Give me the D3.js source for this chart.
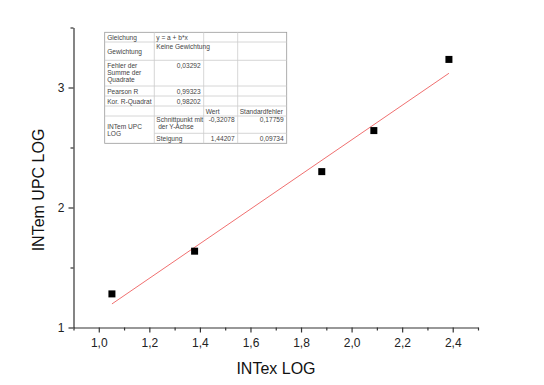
<!DOCTYPE html>
<html>
<head>
<meta charset="utf-8">
<script src="https://cdn.jsdelivr.net/npm/d3@7"></script>
<style>
  body { margin: 0; background: #fff; }
  text { font-family: "Liberation Sans", Arial, sans-serif; }
</style>
</head>
<body>
<div id="graph"></div>
<script>
// Messwerte
const intex = [1.052, 1.379, 1.882, 2.088, 2.385];
const intem = [1.280, 1.636, 2.299, 2.641, 3.234];

// lineare Regression (aus Tabelle)
const fitA = -0.32078;
const fitB = 1.44207;

const xMajorTicks = [1.0, 1.2, 1.4, 1.6, 1.8, 2.0, 2.2, 2.4];
const xMinorTicks = [0.9, 1.1, 1.3, 1.5, 1.7, 1.9, 2.1, 2.3, 2.5];
const yMajorTicks = [1, 2, 3];
const yMinorTicks = [1.5, 2.5, 3.5];

// Tabelleninhalt
const tableLabels = ["Gleichung", "Gewichtung", "Fehler der\nSumme der\nQuadrate", "Pearson R", "Kor. R-Quadrat", "", "INTem UPC\nLOG"];
const tableValues = ["y = a + b*x", "Keine Gewichtung", "0,03292", "0,99323", "0,98202"];
const paramNames = ["Schnittpunkt mit\n der Y-Achse", "Steigung"];
const paramWert = ["-0,32078", "1,44207"];
const paramFehler = ["0,17759", "0,09734"];

const W = 544, H = 385;
const margin = { top: 27.5, right: 66, bottom: 57.5, left: 73.5 };
const width = W - margin.left - margin.right,
      height = H - margin.top - margin.bottom;

const svg = d3.select("#graph").append("svg")
    .attr("width", W)
    .attr("height", H);

const g = svg.append("g")
    .attr("transform", "translate(" + margin.left + "," + margin.top + ")");

let x = d3.scaleLinear().domain([0.9, 2.5]).range([0, width]);
let y = d3.scaleLinear().domain([1, 3.5]).range([height, 0]);

const fmt = d => d3.format(".1f")(d).replace(".", ",");

// Achse X
let xAx = g.append("g")
    .attr("transform", "translate(0," + height + ")")
    .call(d3.axisBottom(x).tickValues(xMajorTicks).tickFormat(fmt).tickSize(5).tickSizeOuter(0));
g.append("g")
    .attr("transform", "translate(0," + height + ")")
    .call(d3.axisBottom(x).tickValues(xMinorTicks).tickFormat("").tickSize(3).tickSizeOuter(0))
    .select(".domain").remove();

// Achse Y
let yAx = g.append("g")
    .call(d3.axisLeft(y).tickValues(yMajorTicks).tickFormat(d => d).tickSize(5).tickSizeOuter(0));
g.append("g")
    .call(d3.axisLeft(y).tickValues(yMinorTicks).tickFormat("").tickSize(3).tickSizeOuter(0))
    .select(".domain").remove();

g.selectAll(".domain, .tick line").attr("stroke", "#333").attr("stroke-width", 1.2);
xAx.selectAll(".tick text").attr("font-size", 12).attr("fill", "#222").attr("dy", "0.95em");
yAx.selectAll(".tick text").attr("font-size", 12).attr("fill", "#222").attr("dx", "-0.1em");

// Achsentitel
svg.append("text")
    .attr("x", 276).attr("y", 374)
    .attr("text-anchor", "middle")
    .attr("font-size", 16).attr("fill", "#111")
    .text("INTex LOG");
svg.append("text")
    .attr("transform", "translate(44,190) rotate(-90)")
    .attr("text-anchor", "middle")
    .attr("font-size", 16).attr("fill", "#111")
    .text("INTem UPC LOG");

// Regressionsgerade
const xmin = d3.min(intex), xmax = d3.max(intex);
g.append("line")
    .attr("x1", x(xmin)).attr("y1", y(fitA + fitB * xmin))
    .attr("x2", x(xmax)).attr("y2", y(fitA + fitB * xmax))
    .attr("stroke", "#f07070").attr("stroke-width", 1);

// Punkte
const s = 7;
g.selectAll("rect.pt")
    .data(intex)
    .enter()
    .append("rect")
    .attr("class", "pt")
    .attr("x", (d) => x(d) - s / 2)
    .attr("y", (d, i) => y(intem[i]) - s / 2)
    .attr("width", s).attr("height", s)
    .attr("fill", "#000");

// Tabelle
const cols = [104.7, 154.3, 203.7, 237.7, 286.7];
const rows = [32.3, 42, 60.3, 86, 96, 106, 116, 133.3, 143.3];
const tg = svg.append("g");
const fs = 6.6;

tg.append("rect")
    .attr("x", cols[0]).attr("y", rows[0])
    .attr("width", cols[4] - cols[0]).attr("height", rows[8] - rows[0])
    .attr("fill", "#fff").attr("stroke", "#999").attr("stroke-width", 0.8);

// horizontale Linien
rows.slice(1, 8).forEach((ry, i) => {
    let x0 = (i === 6) ? cols[1] : cols[0];
    tg.append("line").attr("x1", x0).attr("x2", cols[4]).attr("y1", ry).attr("y2", ry)
        .attr("stroke", "#ccc").attr("stroke-width", 0.8);
});
// vertikale Linien
cols.slice(1, 4).forEach((cx) => {
    tg.append("line").attr("x1", cx).attr("x2", cx).attr("y1", rows[0]).attr("y2", rows[8])
        .attr("stroke", "#ccc").attr("stroke-width", 0.8);
});

function cellText(str, tx, ty, anchor) {
    let t = tg.append("text")
        .attr("x", tx).attr("y", ty)
        .attr("font-size", fs).attr("fill", "#444")
        .attr("text-anchor", anchor || "start");
    str.split("\n").forEach((line, k) => {
        t.append("tspan").attr("x", tx).attr("dy", k === 0 ? 0 : 7.4).text(line);
    });
}

// Beschriftungen linke Spalte
const labelY = [39.8, 53.5, 67.5, 93.8, 103.8, 113.8, 128.5];
tableLabels.forEach((lb, i) => { if (lb) cellText(lb, cols[0] + 2.5, labelY[i]); });

// Werte
cellText(tableValues[0], cols[1] + 2, 39.8);
cellText(tableValues[1], cols[1] + 2, 48.5);
cellText(tableValues[2], cols[2] - 3, 67.5, "end");
cellText(tableValues[3], cols[2] - 3, 93.8, "end");
cellText(tableValues[4], cols[2] - 3, 103.8, "end");

cellText("Wert", cols[2] + 2, 113.8);
cellText("Standardfehler", cols[3] + 2, 113.8);

const paramY = [121.7, 140.5];
paramNames.forEach((p, i) => {
    cellText(p, cols[1] + 2, paramY[i]);
    cellText(paramWert[i], cols[3] - 3, paramY[i], "end");
    cellText(paramFehler[i], cols[4] - 3, paramY[i], "end");
});
</script>
</body>
</html>
